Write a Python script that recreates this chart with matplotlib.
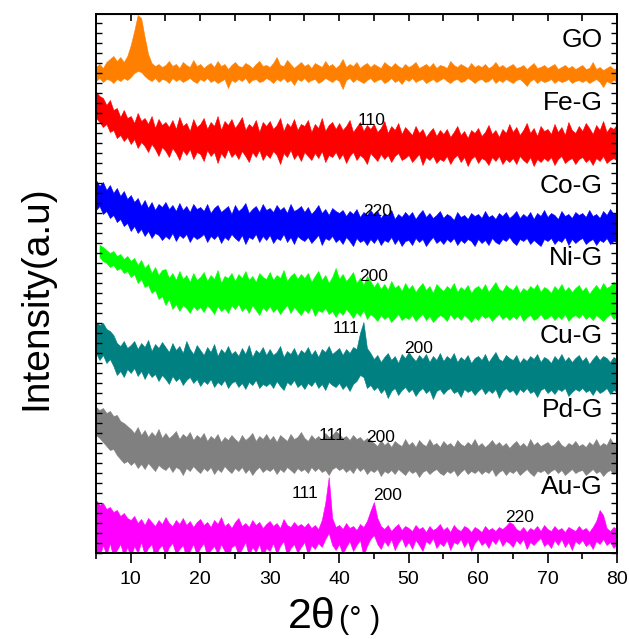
import numpy as np
import matplotlib
matplotlib.use('Agg')
import matplotlib.pyplot as plt
from matplotlib.ticker import MultipleLocator

plt.rcParams['font.family'] = ['Liberation Sans', 'DejaVu Sans']

# 2theta grid, 0.5 deg steps from 5 to 80
two_theta = np.arange(5.0, 80.25, 0.5)
nan = np.nan

# upper / lower edge of each noisy XRD trace (a.u., relative to its own baseline)
go_top = [16, 19, 15, 21, 24, 27, 22, 26, 21, 27,
          38, 52, 68, 65, 46, 29, 20, 17, 19, 16,
          18, 22, 17, 19, 15, 21, 18, 16, 23, 17,
          19, 15, 18, 20, 16, 22, 17, 19, 14, 18,
          21, 17, 16, 20, 18, 15, 19, 22, 17, 18,
          16, 20, 26, 18, 17, 23, 19, 15, 18, 21,
          17, 19, 15, 20, 18, 16, 22, 17, 19, 15,
          18, 24, 16, 19, 17, 21, 15, 18, 20, 16,
          19, 17, 15, 21, 18, 16, 20, 17, 15, 19,
          16, 18, 21, 15, 17, 19, 16, 20, 15, 18,
          17, 15, 22, 18, 16, 19, 17, 15, 20, 16,
          18, 16, 19, 15, 17, 21, 16, 18, 15, 17,
          19, 15, 16, 18, 14, 17, 20, 15, 16, 18,
          15, 17, 19, 14, 16, 18, 15, 17, 14, 16,
          18, 14, 15, 21, 14, 16, 13, 15, 17, 14,
          15]
go_bot = [2, 5, 1, 4, 3, 0, 4, 2, 5, 3,
          6, 10, 12, 11, 7, 4, 2, 5, 1, 4,
          3, 0, 5, 2, 4, 1, 3, 5, 2, 0,
          4, 2, 5, 1, 3, 0, 2, 4, -5, 3,
          1, 4, 2, 5, 0, 3, 4, 1, 2, 5,
          3, 0, 4, 2, 5, 1, 3, -2, 4, 2,
          5, 1, 3, 4, 0, 2, 5, 3, 1, 4,
          2, -6, 3, 5, 1, 4, 2, 0, 3, 5,
          1, 3, 4, 0, 2, 5, 1, 3, -1, 4,
          2, 5, 1, 3, 4, 0, 2, 4, 1, 3,
          5, 2, 0, 3, 4, 1, 2, 5, 3, 0,
          3, 4, 1, 2, 5, 0, 3, 1, 4, 2,
          0, 3, 4, 1, -3, 2, 4, 0, 3, 1,
          2, 4, 0, 3, 1, 2, 4, 0, 2, 3,
          1, 3, 0, 2, 4, 1, -4, 2, 0, 3,
          1]

fe_top = [76, 72, 70, 63, 68, 58, 60, 51, 58, 50,
          52, 45, 55, 47, 50, 44, 52, 40, 49, 43,
          46, 41, 48, 39, 51, 42, 45, 37, 49, 41,
          44, 50, 39, 46, 42, 52, 38, 47, 43, 49,
          40, 45, 51, 38, 44, 41, 48, 36, 46, 42,
          47, 39, 43, 50, 37, 45, 41, 49, 38, 44,
          42, 48, 36, 44, 40, 50, 37, 43, 46, 39,
          45, 38, 42, 48, 36, 41, 46, 37, 43, 39,
          44, 36, 40, 47, 35, 42, 38, 45, 34, 41,
          37, 33, 42, 35, 39, 31, 36, 40, 32, 38,
          34, 39, 31, 36, 42, 33, 37, 30, 38, 35,
          40, 32, 36, 43, 34, 38, 31, 39, 35, 44,
          36, 41, 33, 38, 45, 35, 40, 32, 42, 37,
          39, 34, 44, 36, 41, 33, 46, 38, 35, 42,
          37, 45, 40, 34, 43, 38, 47, 36, 41, 39,
          44]
fe_bot = [50, 46, 41, 44, 36, 38, 30, 33, 27, 31,
          24, 29, 20, 26, 22, 16, 24, 19, 12, 21,
          17, 11, 20, 15, 8, 18, 13, 19, 9, 16,
          14, 7, 18, 12, 16, 5, 15, 10, 19, 11,
          15, 9, 17, 12, 6, 16, 11, 18, 8, 14,
          10, 17, 13, 4, 15, 11, 18, 9, 14, 7,
          16, 12, 8, 15, 10, 17, 6, 13, 11, 16,
          9, 14, 5, 12, 16, 8, 13, 10, 4, 15,
          11, 7, 14, 9, 13, 6, 12, 15, 8, 10,
          13, 6, 10, 14, 3, 11, 8, 12, 5, 9,
          7, 12, 4, 10, 13, 6, 11, 2, 9, 12,
          5, 10, 8, 3, 11, 7, 12, 4, 9, 6,
          10, 4, 12, 8, 5, 11, 2, 9, 6, 10,
          7, 11, 3, 9, 12, 5, 8, 10, 4, 9,
          11, 6, 9, 3, 10, 7, 12, 5, 8, 10,
          7]

co_top = [68, 62, 66, 58, 63, 55, 60, 52, 57, 49,
          53, 46, 50, 42, 48, 40, 46, 38, 44, 41,
          46, 39, 43, 37, 45, 38, 42, 36, 44, 39,
          41, 37, 44, 35, 40, 43, 36, 39, 42, 34,
          43, 37, 40, 45, 35, 39, 42, 36, 44, 38,
          40, 36, 43, 38, 41, 35, 44, 37, 39, 42,
          36, 41, 34, 38, 43, 35, 39, 33, 40, 37,
          35, 38, 32, 37, 34, 39, 31, 36, 33, 38,
          33, 37, 30, 35, 32, 38, 29, 34, 31, 36,
          32, 36, 29, 34, 38, 31, 35, 30, 33, 37,
          30, 34, 32, 28, 36, 31, 33, 29, 35, 32,
          34, 30, 37, 31, 33, 29, 35, 32, 36, 30,
          33, 37, 30, 34, 31, 36, 29, 35, 32, 38,
          31, 35, 33, 29, 37, 32, 34, 30, 36, 33,
          35, 31, 38, 32, 34, 30, 37, 33, 39, 34,
          36]
co_bot = [38, 42, 34, 37, 30, 33, 26, 29, 22, 25,
          17, 22, 15, 19, 12, 17, 10, 15, 13, 8,
          12, 9, 15, 7, 13, 10, 14, 6, 12, 9,
          11, 14, 6, 12, 9, 13, 5, 11, 8, 14,
          10, 7, 13, 4, 11, 9, 14, 6, 12, 8,
          13, 5, 10, 8, 14, 6, 11, 4, 12, 9,
          7, 11, 5, 9, 13, 3, 10, 8, 12, 6,
          9, 4, 11, 7, 2, 10, 6, 8, 3, 9,
          5, 10, 3, 8, 6, 11, 4, 9, 2, 7,
          8, 3, 10, 6, 9, 2, 7, 11, 5, 8,
          4, 9, 6, 10, 3, 8, 5, 9, 7, 2,
          9, 5, 8, 3, 10, 6, 4, 9, 7, 11,
          6, 3, 9, 7, 10, 4, 8, 5, 2, 9,
          7, 10, 4, 8, 6, 11, 3, 9, 5, 8,
          10, 4, 7, 9, 3, 8, 6, 10, 4, 7,
          6]

ni_top = [nan, 78, 76, 73, 70, 72, 67, 69, 64, 67,
          62, 65, 58, 63, 55, 59, 50, 56, 48, 53,
          54, 45, 50, 43, 52, 44, 48, 41, 50, 43,
          46, 51, 42, 48, 44, 53, 40, 47, 45, 50,
          42, 49, 45, 52, 43, 47, 41, 50, 46, 44,
          51, 43, 48, 45, 53, 42, 47, 50, 44, 49,
          45, 50, 41, 47, 52, 43, 48, 40, 46, 55,
          44, 49, 42, 46, 51, 40, 45, 38, 47, 42,
          36, 41, 34, 39, 33, 42, 35, 38, 32, 40,
          34, 38, 31, 36, 40, 33, 37, 30, 39, 35,
          32, 37, 34, 40, 31, 36, 33, 38, 30, 35,
          37, 33, 39, 31, 36, 41, 34, 32, 38, 35,
          33, 38, 30, 35, 32, 37, 34, 39, 31, 36,
          34, 30, 37, 33, 39, 32, 36, 31, 35, 38,
          32, 36, 29, 34, 38, 33, 40, 35, 37, 41,
          39]
ni_bot = [nan, 66, 62, 60, 56, 58, 53, 55, 50, 52,
          46, 49, 40, 44, 36, 38, 30, 33, 24, 27,
          18, 24, 14, 19, 12, 18, 15, 10, 17, 13,
          16, 11, 18, 14, 9, 17, 12, 15, 10, 18,
          14, 19, 12, 16, 10, 18, 13, 8, 16, 12,
          17, 11, 15, 9, 14, 18, 10, 16, 12, 8,
          14, 10, 16, 7, 13, 11, 15, 9, 12, 6,
          12, 8, 14, 10, 5, 11, 7, 13, 4, 9,
          6, 2, 8, 4, 7, 1, 5, 9, 3, 6,
          4, 8, 2, 6, 9, 3, 7, 1, 5, 8,
          6, 2, 9, 4, 7, 3, 8, 5, 1, 6,
          3, 8, 5, 7, 2, 6, 9, 4, 7, 3,
          7, 4, 9, 2, 6, 8, 3, 5, 9, 4,
          5, 8, 3, 7, 4, 9, 2, 6, 8, 5,
          9, 4, 7, 3, 8, 5, 2, 6, 9, 4,
          7]

cu_top = [71, 68, 70, 64, 62, 58, 50, 47, 52, 45,
          48, 52, 44, 50, 46, 53, 42, 49, 45, 51,
          46, 41, 50, 43, 47, 40, 52, 44, 39, 48,
          43, 38, 46, 41, 49, 37, 44, 40, 47, 39,
          42, 37, 45, 39, 48, 36, 43, 40, 46, 38,
          44, 38, 41, 47, 36, 42, 39, 45, 37, 43,
          40, 46, 38, 43, 36, 44, 41, 47, 39, 42,
          45, 38, 44, 40, 46, 44, 60, 71, 45, 40,
          34, 38, 31, 36, 40, 33, 37, 30, 39, 35,
          41, 36, 32, 38, 34, 39, 31, 37, 33, 40,
          32, 37, 34, 40, 31, 36, 33, 38, 30, 35,
          37, 33, 39, 31, 36, 41, 34, 32, 38, 35,
          33, 38, 30, 35, 32, 37, 34, 39, 31, 36,
          34, 30, 37, 33, 39, 32, 36, 31, 35, 38,
          32, 36, 29, 34, 38, 33, 37, 35, 31, 36,
          34]
cu_bot = [40, 33, 38, 30, 34, 27, 18, 22, 16, 24,
          20, 25, 17, 22, 14, 21, 16, 19, 12, 18,
          14, 9, 17, 12, 15, 8, 13, 16, 10, 14,
          7, 12, 9, 14, 6, 11, 8, 13, 5, 10,
          12, 6, 10, 4, 11, 8, 13, 5, 9, 7,
          10, 5, 12, 7, 3, 11, 8, 13, 6, 9,
          4, 10, 7, 12, 5, 9, 3, 11, 8, 6,
          10, 4, 8, 2, 9, 12, 18, 16, 5, 8,
          3, 6, 0, 4, -5, 2, 5, -2, 3, 6,
          1, 4, -3, 2, 5, 0, 3, -6, 2, 4,
          -1, 3, 5, 0, 2, -4, 4, 1, 3, -2,
          2, 5, -1, 3, 0, 4, -5, 2, 5, 1,
          3, -2, 4, 1, 5, 0, 2, -4, 3, 5,
          0, 3, -1, 4, 2, 5, -3, 1, 4, 2,
          5, 1, 3, -2, 4, 0, 2, 5, -1, 3,
          1]

pd_top = [66, 63, 65, 60, 62, 57, 58, 52, 50, 47,
          44, 40, 46, 38, 43, 36, 41, 37, 44, 35,
          40, 35, 38, 42, 34, 39, 36, 41, 33, 38,
          35, 40, 32, 37, 34, 39, 31, 36, 33, 38,
          34, 31, 38, 33, 36, 40, 32, 37, 34, 39,
          33, 37, 31, 38, 35, 32, 39, 34, 36, 41,
          35, 32, 38, 34, 37, 33, 40, 36, 38, 42,
          39, 35, 37, 33, 38, 34, 36, 32, 35, 33,
          30, 27, 33, 28, 31, 26, 32, 29, 27, 34,
          28, 31, 26, 33, 29, 27, 34, 28, 30, 26,
          32, 28, 30, 26, 33, 29, 27, 31, 28, 34,
          27, 30, 26, 29, 33, 28, 31, 27, 30, 25,
          29, 32, 27, 30, 26, 34, 28, 31, 27, 29,
          31, 27, 29, 33, 28, 26, 30, 28, 32, 27,
          29, 26, 31, 28, 34, 27, 30, 28, 35, 29,
          31]
pd_bot = [38, 35, 31, 27, 23, 24, 18, 14, 10, 12,
          8, 11, 5, 9, 4, 10, 6, 2, 8, 5,
          3, 7, 1, 6, 4, -2, 5, 2, 7, 3,
          0, 5, 2, 6, -1, 4, 1, 7, 3, 0,
          5, 2, 6, 0, 4, -2, 3, 6, 1, 4,
          2, 5, -1, 4, 1, 6, 3, 0, 5, 2,
          4, 0, 6, 2, 5, 1, 3, -2, 4, 6,
          3, 5, 1, 4, 0, 6, 2, 5, -1, 3,
          1, 4, -3, 2, 0, 3, -1, 4, 1, -2,
          3, 0, 2, -4, 1, 3, -1, 2, 4, 0,
          -2, 2, 0, 3, -3, 1, 4, -1, 2, 0,
          3, -1, 2, 0, 4, -3, 1, 3, -2, 2,
          0, 3, -2, 1, 4, 0, -3, 2, 1, 3,
          -1, 2, 4, 0, 3, -2, 1, 4, 0, 2,
          3, -2, 1, 4, 0, 2, -3, 1, 3, -1,
          2]

au_top = [53, 48, 50, 44, 46, 41, 43, 37, 40, 35,
          33, 37, 30, 34, 28, 35, 31, 27, 33, 29,
          36, 30, 27, 33, 29, 35, 28, 32, 26, 31,
          34, 28, 31, 26, 33, 29, 36, 27, 30, 25,
          31, 35, 27, 30, 26, 33, 28, 31, 25, 29,
          32, 27, 30, 25, 34, 28, 26, 31, 27, 29,
          26, 30, 25, 28, 24, 33, 50, 76, 35, 26,
          28, 24, 30, 25, 27, 23, 29, 26, 32, 42,
          51, 35, 27, 24, 28, 22, 26, 29, 23, 27,
          25, 22, 28, 24, 26, 21, 27, 23, 25, 29,
          23, 26, 21, 28, 24, 22, 27, 25, 21, 26,
          24, 21, 27, 23, 25, 22, 26, 24, 27, 31,
          29, 24, 22, 26, 21, 25, 23, 27, 22, 28,
          24, 22, 27, 23, 25, 21, 26, 24, 22, 27,
          23, 25, 21, 26, 32, 43, 38, 25, 22, 26,
          24]
au_bot = [2, -4, 8, -2, 10, -5, 3, 9, -3, 6,
          -4, 7, 0, 11, -2, 5, 9, -6, 4, 8,
          -3, 6, 10, -1, 4, 8, -5, 2, 9, -2,
          5, 10, -4, 3, 7, -1, 9, 2, -6, 6,
          8, -2, 4, 11, -3, 6, 1, 9, -4, 5,
          2, 10, -1, 7, 12, -3, 5, 9, 0, 6,
          11, -2, 8, 4, 10, 6, 14, 20, 8, 3,
          9, -1, 6, 12, 2, 8, 13, -3, 7, 14,
          18, 9, 4, 12, 7, 14, 3, 10, 15, 6,
          11, 4, 13, 8, 2, 12, 9, 15, 5, 10,
          7, 13, 3, 11, 9, 14, 6, 12, 2, 10,
          14, 8, 11, 5, 13, 9, 15, 7, 12, 10,
          6, 13, 9, 14, 4, 11, 8, 12, 15, 7,
          10, 5, 13, 8, 14, 6, 11, 3, 12, 9,
          13, 7, 10, 4, 12, 9, 14, 8, 11, 5,
          9]

samples = ['GO', 'Fe-G', 'Co-G', 'Ni-G', 'Cu-G', 'Pd-G', 'Au-G']
tops = [go_top, fe_top, co_top, ni_top, cu_top, pd_top, au_top]
bots = [go_bot, fe_bot, co_bot, ni_bot, cu_bot, pd_bot, au_bot]
colors = ['#FF8000', '#FF0000', '#0000FF', '#00FF00', '#008080', '#808080', '#FF00FF']

# (hkl, 2theta, height) of the reflection labels
peak_labels = [('110', 44.7, 433), ('220', 45.6, 342), ('200', 44.9, 277),
               ('111', 41.0, 225), ('200', 51.5, 205),
               ('111', 39.0, 118), ('200', 45.9, 115),
               ('111', 35.1, 59), ('200', 46.9, 57), ('220', 66.0, 36)]

offsets = [470, 385, 305, 230, 160, 80, 0]
name_y = [513, 450, 367, 295, 217, 143, 66]

fig = plt.figure(figsize=(6.29, 6.39), dpi=100)
ax = fig.add_axes([96/629, 86/639, 521/629, 539/639])

for name, top, bot, c, off, ny in zip(samples, tops, bots, colors, offsets, name_y):
    top = np.array(top, dtype=float) + off
    bot = np.array(bot, dtype=float) + off
    ax.fill_between(two_theta, bot, top, color=c, lw=0.4, edgecolor=c)
    ax.text(78.0, ny, name, ha='right', va='center', fontsize=19)

for lab, x, y in peak_labels:
    ax.text(x, y, lab, ha='center', va='center', fontsize=12.5, zorder=5)

ax.set_xlim(5, 80)
ax.set_ylim(0, 539)
ax.xaxis.set_major_locator(MultipleLocator(10))
ax.xaxis.set_minor_locator(MultipleLocator(5))
ax.yaxis.set_major_locator(MultipleLocator(10))
ax.tick_params(axis='x', which='major', direction='out', length=7, width=1.2,
               labelsize=14, pad=6)
ax.tick_params(axis='x', which='minor', direction='out', length=4, width=1.2)
ax.tick_params(axis='y', which='both', left=True, right=True, direction='in',
               length=4, width=1, labelleft=False)
for s in ax.spines.values():
    s.set_linewidth(1.4)

top_ax = ax.secondary_xaxis('top')
top_ax.xaxis.set_major_locator(MultipleLocator(5))
top_ax.tick_params(direction='in', length=5, width=1.2, labeltop=False)

fig.text(36/629, 1 - 298/639, 'Intensity(a.u)', rotation=90, ha='center',
         va='center', fontsize=28)
fig.text(336/629, 1 - 617/639, '2θ', ha='right', va='center', fontsize=31)
fig.text(339/629, 1 - 620/639, '(° )', ha='left', va='center', fontsize=22)

fig.savefig('out.png', dpi=100)
